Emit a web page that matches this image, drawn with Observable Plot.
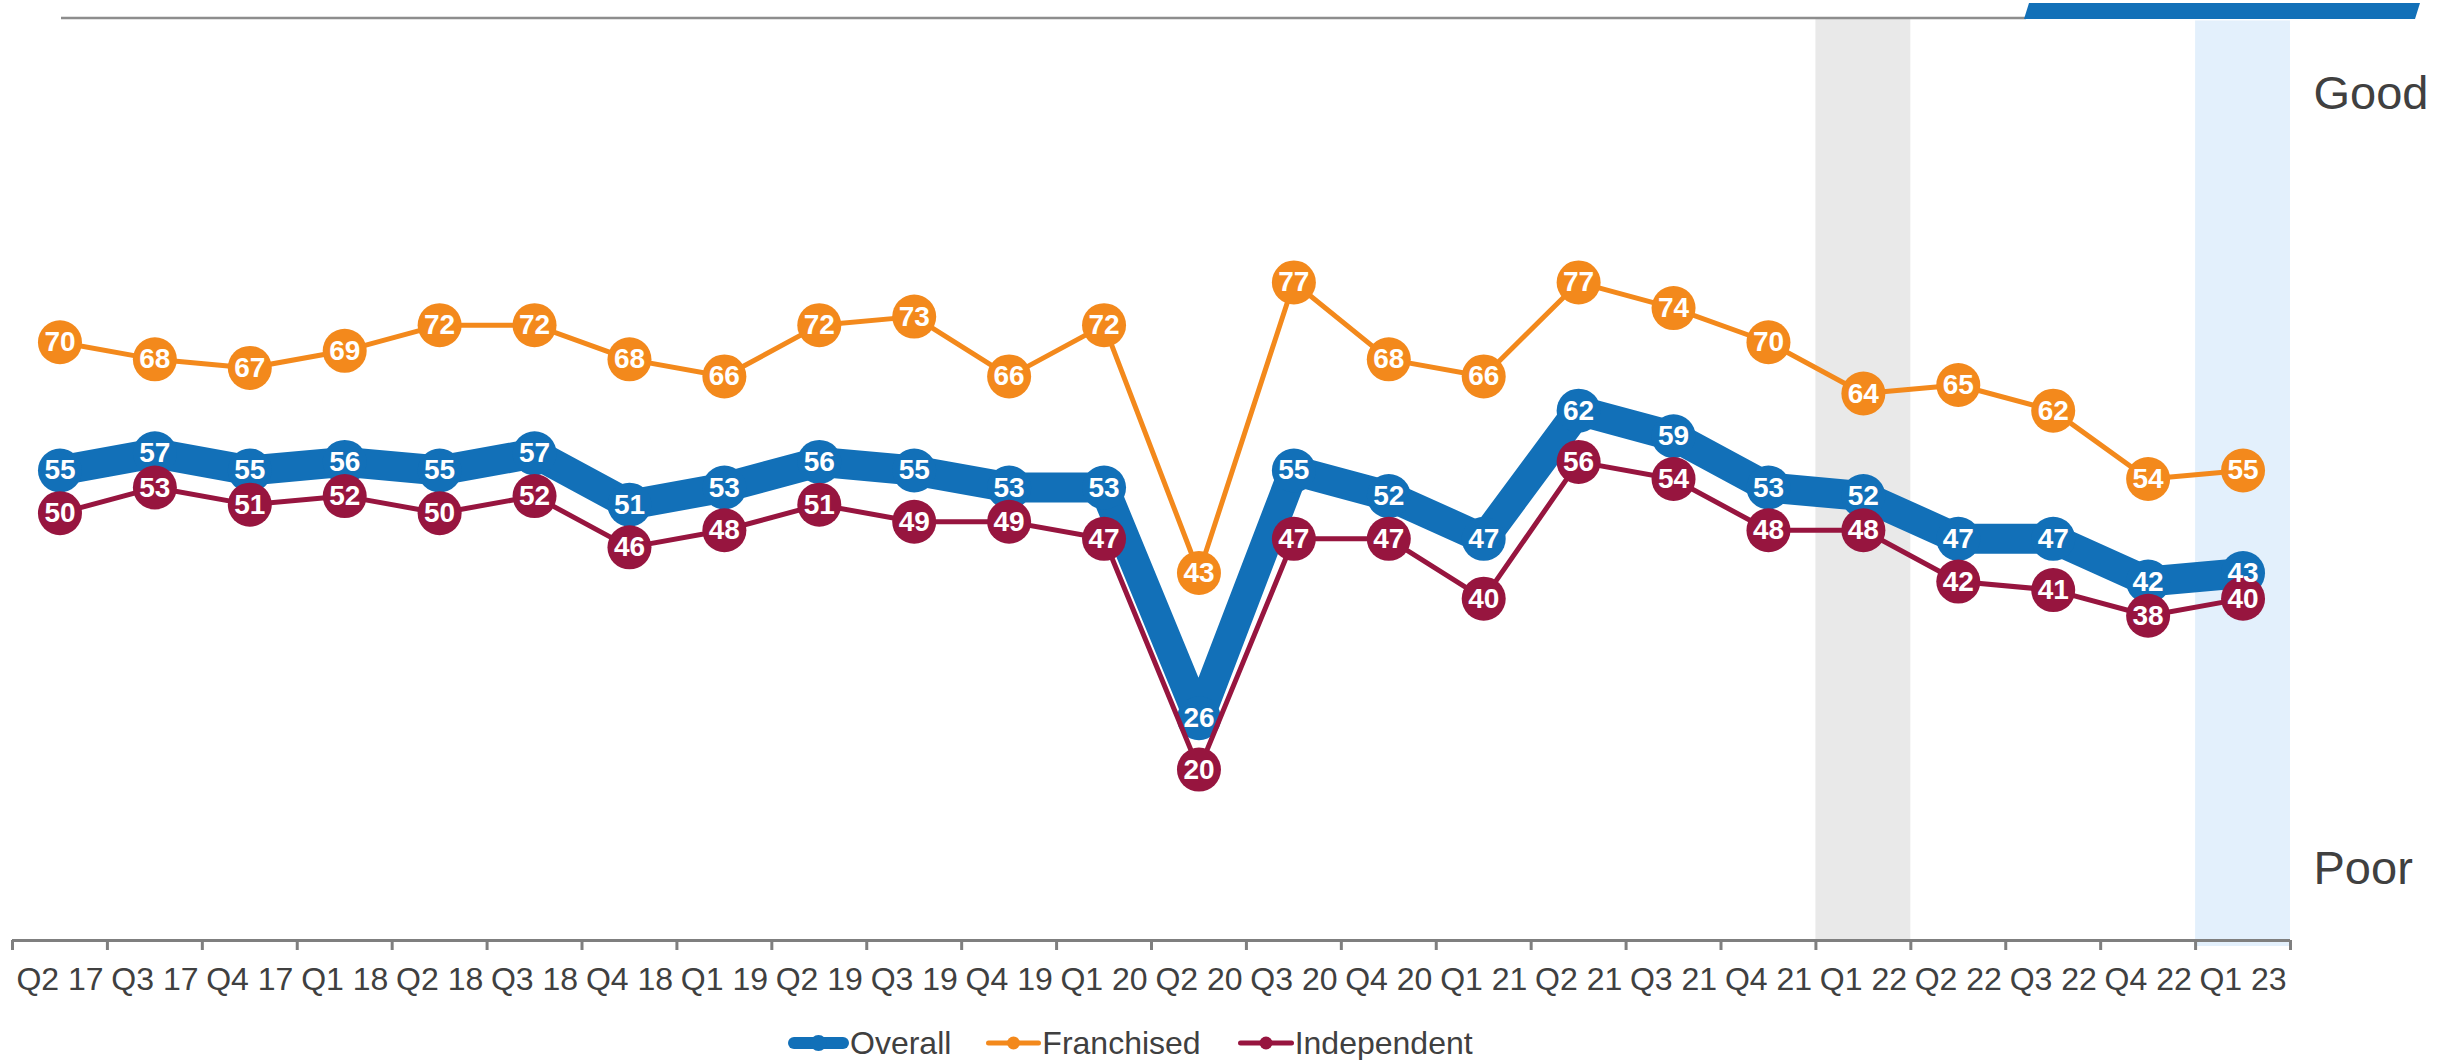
<!DOCTYPE html>
<html>
<head>
<meta charset="utf-8">
<script src="https://cdn.jsdelivr.net/npm/d3@7"></script>
<script src="https://cdn.jsdelivr.net/npm/@observablehq/plot@0.6"></script>
<style>
  html, body { margin: 0; padding: 0; background: #ffffff; }
  body { width: 2453px; height: 1060px; position: relative; overflow: hidden; font-family: "Liberation Sans", Arial, sans-serif; }
  #chart { position: absolute; left: 0; top: 0; }
  #legend { position: absolute; left: 787px; top: 1023px; height: 40px; display: flex; align-items: center; font-size: 32px; color: #404040; }
  #legend .item { display: flex; align-items: center; }
  #legend svg { display: block; }
</style>
</head>
<body>
<div id="chart"></div>
<div id="legend"></div>
<script>
// ---- data ----
const quarters = ["Q2 17","Q3 17","Q4 17","Q1 18","Q2 18","Q3 18","Q4 18","Q1 19","Q2 19","Q3 19","Q4 19","Q1 20",
                  "Q2 20","Q3 20","Q4 20","Q1 21","Q2 21","Q3 21","Q4 21","Q1 22","Q2 22","Q3 22","Q4 22","Q1 23"];
const overall     = [55,57,55,56,55,57,51,53,56,55,53,53,26,55,52,47,62,59,53,52,47,47,42,43];
const franchised  = [70,68,67,69,72,72,68,66,72,73,66,72,43,77,68,66,77,74,70,64,65,62,54,55];
const independent = [50,53,51,52,50,52,46,48,51,49,49,47,20,47,47,40,56,54,48,48,42,41,38,40];
const seriesNames = ["Overall", "Franchised", "Independent"];
const greyQuarter = "Q1 22";
const blueQuarter = "Q1 23";
const scaleLabels = ["Good", "Poor"];
const scaleLabelValues = [99, 8.4];

// ---- styles ----
const colors = {Overall: "#1270B8", Franchised: "#F3891C", Independent: "#97153F"};
const lineWidths = {Overall: 30, Franchised: 5, Independent: 5};
const textColor = "#404040";
const axisColor = "#7f7f7f";

const seriesValues = {Overall: overall, Franchised: franchised, Independent: independent};
const rows = seriesNames.flatMap(s => seriesValues[s].map((v, i) => ({series: s, i, q: quarters[i], v})));
const bySeries = s => rows.filter(d => d.series === s);

const W = 2453, H = 1000;
const gi = quarters.indexOf(greyQuarter);
const bi = quarters.indexOf(blueQuarter);

const header = () => {
  const g = d3.create("svg:g");
  g.append("line").attr("x1", 61).attr("x2", 2026).attr("y1", 18).attr("y2", 18)
    .attr("stroke", "#8d8d8d").attr("stroke-width", 2.5);
  g.append("polygon").attr("points", "2024,19 2029,3 2420,3 2415,19").attr("fill", "#1270B8");
  return g.node();
};

const seriesMarks = s => [
  Plot.line(bySeries(s), {x: "i", y: "v", stroke: colors[s], strokeWidth: lineWidths[s], strokeLinejoin: "round", strokeLinecap: "round"}),
  Plot.dot(bySeries(s), {x: "i", y: "v", r: 22, fill: colors[s], stroke: null})
];
const labelMarks = s => Plot.text(bySeries(s), {x: "i", y: "v", text: d => String(d.v), fill: "white", fontWeight: "bold", fontSize: 28, fontFamily: "Liberation Sans, Arial, sans-serif"});

const chart = Plot.plot({
  width: W,
  height: H,
  marginLeft: 12,
  marginRight: 163,
  marginTop: 17,
  marginBottom: 60,
  style: {fontFamily: "Liberation Sans, Arial, sans-serif", background: "white", overflow: "visible"},
  x: {type: "linear", domain: [-0.5, quarters.length - 0.5]},
  y: {type: "linear", domain: [0, 108], axis: null},
  marks: [
    Plot.rect([gi], {x1: d => d - 0.5, x2: d => d + 0.5, y1: 0, y2: 108, fill: "#E9E9E9"}),
    Plot.rect([bi], {x1: d => d - 0.5, x2: d => d + 0.5, y1: -0.7, y2: 107.6, fill: "#E3F0FC"}),
    header,
    Plot.ruleY([0], {stroke: axisColor, strokeWidth: 3}),
    Plot.axisX(d3.range(quarters.length + 1).map(d => d - 0.5), {tickSize: 10, tickFormat: () => "", stroke: axisColor, strokeWidth: 3, label: null}),
    Plot.axisX(d3.range(quarters.length), {tickSize: 0, tickPadding: 27, tickFormat: i => quarters[i], fontSize: 32, color: textColor, label: null}),
    ...seriesMarks("Overall"),
    ...seriesMarks("Independent"),
    ...seriesMarks("Franchised"),
    labelMarks("Overall"),
    labelMarks("Independent"),
    labelMarks("Franchised"),
    Plot.text(scaleLabels, {frameAnchor: "right", y: (d, k) => scaleLabelValues[k], text: d => d, dx: 23, textAnchor: "start", fontSize: 47, fill: textColor})
  ]
});
document.getElementById("chart").appendChild(chart);

// ---- legend ----
const legend = d3.select("#legend");
const swatchSpec = {Overall: {w: 63, sw: 12, r: 8, gapBefore: 0}, Franchised: {w: 57, sw: 5, r: 6.5, gapBefore: 34}, Independent: {w: 58, sw: 5, r: 6.5, gapBefore: 36}};
seriesNames.forEach(s => {
  const sp = swatchSpec[s];
  const item = legend.append("div").attr("class", "item").style("margin-left", sp.gapBefore + "px");
  const svg = item.append("svg").attr("width", sp.w).attr("height", 40);
  svg.append("line").attr("x1", sp.sw / 2 + 1).attr("x2", sp.w - sp.sw / 2 - 1).attr("y1", 20).attr("y2", 20)
    .attr("stroke", colors[s]).attr("stroke-width", sp.sw).attr("stroke-linecap", "round");
  svg.append("circle").attr("cx", sp.w / 2).attr("cy", 20).attr("r", sp.r).attr("fill", colors[s]);
  item.append("span").text(s);
});
</script>
</body>
</html>
